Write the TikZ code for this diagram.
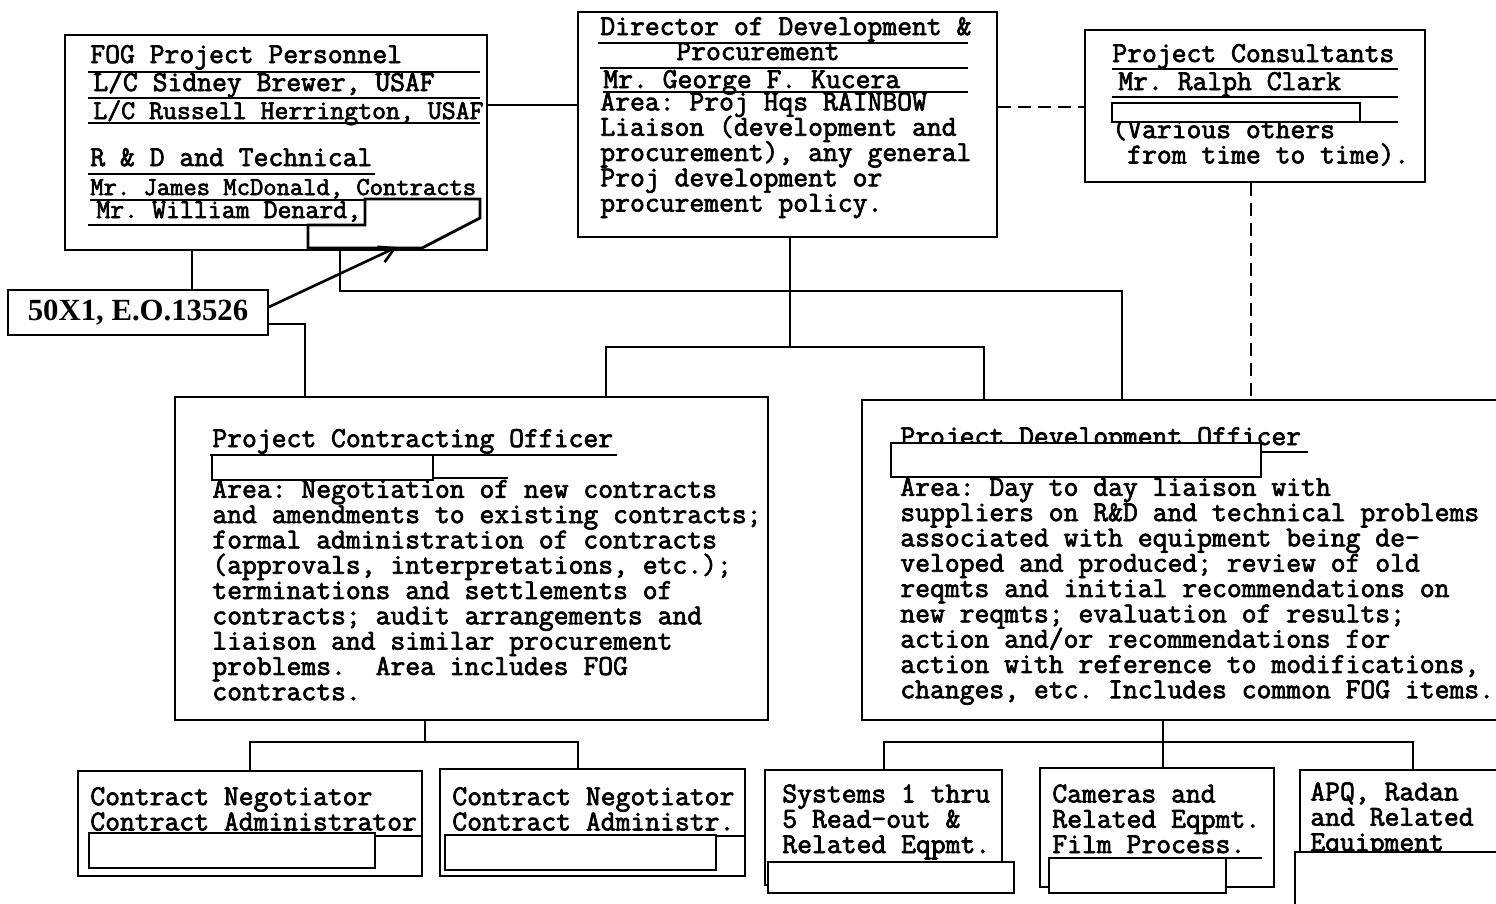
\documentclass[tikz,border=0pt]{standalone}
\usepackage{fontspec}
\usetikzlibrary{fit,arrows.meta}
\newfontfamily\tw[FakeBold=2.5]{Latin Modern Mono}
\newfontfamily\lblserif{Liberation Serif}
\newcommand{\typed}{\tw\fontsize{16.4}{14.4}\selectfont\frenchspacing\lineskiplimit=-\maxdimen}
\newcommand{\typednarrow}{\tw\fontsize{15.4}{14.4}\selectfont\frenchspacing\lineskiplimit=-\maxdimen}
\newcommand{\typedtight}{\tw\fontsize{14.7}{14.4}\selectfont\frenchspacing\lineskiplimit=-\maxdimen}

\begin{document}
\begin{tikzpicture}[x=0.2mm, y=-0.2mm,
    box/.style={draw, line width=1.3pt, inner sep=0pt},
    redact/.style={draw, fill=white, line width=1.6pt, inner sep=0pt},
    txt/.style={font=\typed, align=left, anchor=base west, inner sep=0pt},
    txtn/.style={txt, font=\typednarrow},
    txtt/.style={txt, font=\typedtight},
    uline/.style={line width=0.9pt},
    link/.style={line width=1.5pt},
    dlink/.style={line width=1.5pt, dash pattern=on 2.6mm off 1.4mm},
    tag/.style={draw, fill=white, line width=1pt, minimum width=52mm, minimum height=9mm,
                inner sep=0pt, font=\lblserif\bfseries\fontsize{17.5}{20}\selectfont}]
    \useasboundingbox[fill=white] (0,0) rectangle (1496,903);

    % boxes
    \node[box, fit={(65,35) (487,250)}] (fog) {};
    \node[box, fit={(578,12) (997,237)}] (dir) {};
    \node[box, fit={(1085,30) (1425,182)}] (pc) {};
    \node[box, fit={(175,397) (768,720)}] (pco) {};
    \node[box, fit={(862,400) (1510,720)}] (pdo) {};
    \node[box, fit={(78,771) (422,876)}] (neg1) {};
    \node[box, fit={(440,769) (745,876)}] (neg2) {};
    \node[box, fit={(765,770) (1002,885)}] (sys) {};
    \node[box, fit={(1040,768) (1274,887)}] (cam) {};
    \node[box, fit={(1300,770) (1510,915)}] (apq) {};

    % FOG personnel
    \node[txt] (fogT) at (90,63) {FOG Project Personnel};
    \node[txt] (fogA) at (93,91) {L/C Sidney Brewer, USAF};
    \node[txtn] (fogB) at (93,119) {L/C Russell Herrington, USAF};
    \node[txt] (fogC) at (90,166) {R \& D and Technical};
    \node[txtt] (fogD) at (90,195) {Mr. James McDonald, Contracts};
    \node[txtn] (fogE) at (96,218) {Mr. William Denard,};
    \draw[uline] (88,72) -- (480,72);
    \draw[uline] (88,98) -- (480,98);
    \draw[uline] (88,123) -- (480,123);
    \draw[uline] (88,174) -- (375,174);
    \draw[uline] (90,200) -- (365,200);
    \draw[uline] (88,225) -- (308,225);
    \draw[redact] (365,199) -- (480,199) -- (480,218) -- (422,248) -- (308,248)
        -- (308,225) -- (365,225) -- cycle;

    % director (multi-line nodes sit on their last baseline)
    \node[txt] (dirT) at (600,35) {Director of Development \&};
    \node[txt] (dirP) at (676,60) {Procurement};
    \node[txt] (dirN) at (603,88) {Mr. George F. Kucera};
    \node[txt] (dirB) at (600,211.6) {Area: Proj Hqs RAINBOW\\
        Liaison (development and\\
        procurement), any general\\
        Proj development or\\
        procurement policy.};
    \draw[uline] (598,43) -- (968,43);
    \draw[uline] (600,68) -- (968,68);
    \draw[uline] (603,92) -- (968,92);

    % consultants
    \node[txt] (pcT) at (1112,62) {Project Consultants};
    \node[txt] (pcN) at (1118,90) {Mr. Ralph Clark};
    \node[txt] (pcB) at (1112,163.4) {(Various others\\
        \hphantom{x}from time to time).};
    \draw[uline] (1112,69) -- (1398,69);
    \draw[uline] (1112,97) -- (1398,97);
    \draw[uline] (1360,122) -- (1398,122);
    \node[redact, fit={(1112,103) (1360,122)}] (pcR) {};

    % contracting officer
    \node[txt] (pcoT) at (212,447) {Project Contracting Officer};
    \node[txt] (pcoB) at (212,700.2) {Area: Negotiation of new contracts\\
        and amendments to existing contracts;\\
        formal administration of contracts\\
        (approvals, interpretations, etc.);\\
        terminations and settlements of\\
        contracts; audit arrangements and\\
        liaison and similar procurement\\
        problems.\ \ Area includes FOG\\
        contracts.};
    \draw[uline] (210,455) -- (617,455);
    \draw[uline] (433,478) -- (508,478);
    \node[redact, fit={(212,455) (433,480)}] (pcoR) {};

    % development officer
    \node[txt] (pdoT) at (900,445) {Project Development Officer};
    \node[txt] (pdoB) at (900,698.2) {Area: Day to day liaison with\\
        suppliers on R\&D and technical problems\\
        associated with equipment being de-\\
        veloped and produced; review of old\\
        reqmts and initial recommendations on\\
        new reqmts; evaluation of results;\\
        action and/or recommendations for\\
        action with reference to modifications,\\
        changes, etc. Includes common FOG items.};
    \draw[uline] (900,452) -- (1308,452);
    \node[redact, fit={(891,443) (1261,477)}] (pdoR) {};

    % lower boxes
    \node[txt] (neg1T) at (90,830.4) {Contract Negotiator\\Contract Administrator};
    \node[txt] (neg2T) at (452,830.4) {Contract Negotiator\\Contract Administr.};
    \node[txt] (sysT) at (782,853) {Systems 1 thru\\5 Read-out \&\\Related Eqpmt.};
    \node[txt] (camT) at (1052,853) {Cameras and\\Related Eqpmt.\\Film Process.};
    \node[txt] (apqT) at (1310,851) {APQ, Radan\\and Related\\Equipment};
    \draw[uline] (375,836) -- (422,836);
    \draw[uline] (445,836) -- (745,836);
    \draw[uline] (1226,858) -- (1262,858);
    \node[redact, fit={(89,833) (375,868)}] (neg1R) {};
    \node[redact, fit={(445,835) (716,870)}] (neg2R) {};
    \node[redact, fit={(768,862) (1014,893)}] (sysR) {};
    \node[redact, fit={(1049,858) (1226,893)}] (camR) {};
    \node[redact, fit={(1295,852) (1510,915)}] (apqR) {};

    % lines between boxes
    \draw[link] (fog.east |- 0,105) -- (dir.west |- 0,105);
    \draw[dlink] (dir.east |- 0,107) -- (pc.west |- 0,107);
    \draw[dlink] (pc.south -| 1251,0) -- (pdo.north -| 1251,0);
    \draw[link] (fog.south -| 192,0) |- (305,324) -- (pco.north -| 305,0);
    \draw[link] (fog.south -| 340,0) |- (1122,291) -- (pdo.north -| 1122,0);
    \draw[link] (dir.south -| 790,0) -- (790,347);
    \draw[link] (pco.north -| 606,0) |- (984,347) -- (pdo.north -| 984,0);
    \draw[link] (pco.south -| 425,0) -- (425,742);
    \draw[link] (neg1.north -| 250,0) |- (578,742) -- (neg2.north -| 578,0);
    \draw[link] (pdo.south -| 1163,0) -- (cam.north -| 1163,0);
    \draw[link] (sys.north -| 884,0) |- (1413,742) -- (apq.north -| 1413,0);

    % declassification tag
    \node[tag] (lbl) at (138,312.5) {50X1, E.O.13526};
    \coordinate (tip) at (397,247);
    \draw[line width=1.5pt, -{Straight Barb[length=3mm, width=3.4mm]}] ([yshift=1.1mm]lbl.east) -- (tip);
\end{tikzpicture}
\end{document}
